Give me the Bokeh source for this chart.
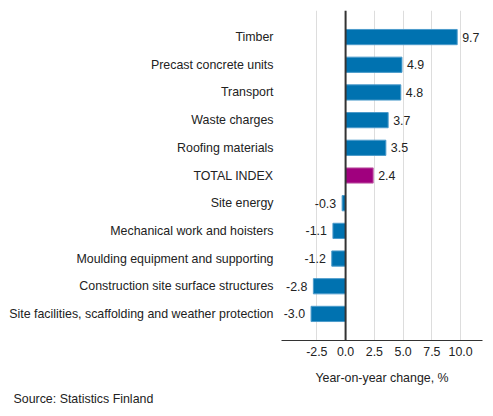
from bokeh.plotting import figure
from bokeh.models import (ColumnDataSource, FactorRange, Span, FixedTicker,
                          NumeralTickFormatter, Title, Range1d)
from bokeh.embed import file_html
from bokeh.resources import INLINE
from bokeh.core.properties import value

categories = ["Timber", "Precast concrete units", "Transport", "Waste charges",
              "Roofing materials", "TOTAL INDEX", "Site energy",
              "Mechanical work and hoisters", "Moulding equipment and supporting",
              "Construction site surface structures",
              "Site facilities, scaffolding and weather protection"]
values = [9.7, 4.9, 4.8, 3.7, 3.5, 2.4, -0.3, -1.1, -1.2, -2.8, -3.0]
x_ticks = [-2.5, 0.0, 2.5, 5.0, 7.5, 10.0]

BLUE = "#0072B0"
PURPLE = "#A0007E"
FONT = "Liberation Sans"
FS = "12.4px"

colors = [PURPLE if c == "TOTAL INDEX" else BLUE for c in categories]
lines = ["#C060A8" if c == "TOTAL INDEX" else "#4C9BCB" for c in categories]
labels = ["%.1f" % v for v in values]

factors = list(reversed(categories))

p = figure(width=493, height=416, output_backend="svg", toolbar_location=None,
           y_range=FactorRange(factors=factors, range_padding=0.46,
                               range_padding_units="absolute"),
           x_range=Range1d(-5.57, 11.9),
           min_border_left=281, min_border_right=11, min_border_top=10,
           min_border_bottom=76)
p.outline_line_color = None
p.background_fill_color = "white"

src_pos = ColumnDataSource(dict(
    cat=[c for c, v in zip(categories, values) if v >= 0],
    val=[v for v in values if v >= 0],
    color=[col for col, v in zip(colors, values) if v >= 0],
    lc=[l for l, v in zip(lines, values) if v >= 0],
    lab=[l for l, v in zip(labels, values) if v >= 0]))
src_neg = ColumnDataSource(dict(
    cat=[c for c, v in zip(categories, values) if v < 0],
    val=[v for v in values if v < 0],
    color=[col for col, v in zip(colors, values) if v < 0],
    lc=[l for l, v in zip(lines, values) if v < 0],
    lab=[l for l, v in zip(labels, values) if v < 0]))

for src in (src_pos, src_neg):
    p.hbar(y="cat", left=0, right="val", height=0.55, source=src,
           fill_color="color", line_color="lc", line_width=1)

p.text(x="val", y="cat", text="lab", source=src_pos, x_offset=5,
       text_align="left", text_baseline="middle", text_font=value(FONT),
       text_font_size=FS, text_color="#222222")
p.text(x="val", y="cat", text="lab", source=src_neg, x_offset=-6,
       text_align="right", text_baseline="middle", text_font=value(FONT),
       text_font_size=FS, text_color="#222222")

p.add_layout(Span(location=0, dimension="height", line_color="#333333",
                  line_width=2))

p.xaxis.ticker = FixedTicker(ticks=x_ticks)
p.xaxis.formatter = NumeralTickFormatter(format="0.0")
p.xaxis.axis_label = "Year-on-year change, %"
p.xaxis.axis_label_text_font = FONT
p.xaxis.axis_label_text_font_style = "normal"
p.xaxis.axis_label_text_font_size = FS
p.xaxis.axis_label_text_color = "#222222"
p.xaxis.axis_label_standoff = 12
p.xaxis.major_label_text_font = FONT
p.xaxis.major_label_text_font_size = FS
p.xaxis.major_label_text_color = "#222222"
p.xaxis.major_label_standoff = 6
p.xaxis.major_tick_in = 0
p.xaxis.major_tick_out = 0
p.xaxis.minor_tick_in = 0
p.xaxis.minor_tick_out = 0
p.xaxis.axis_line_color = "#333333"
p.xaxis.axis_line_width = 1

p.yaxis.major_label_text_font = FONT
p.yaxis.major_label_text_font_size = FS
p.yaxis.major_label_text_color = "#222222"
p.yaxis.major_label_standoff = 8
p.yaxis.major_tick_in = 0
p.yaxis.major_tick_out = 0
p.yaxis.axis_line_color = None

p.xgrid.ticker = FixedTicker(ticks=x_ticks)
p.xgrid.grid_line_color = "#DDDDDD"
p.ygrid.grid_line_color = None

p.add_layout(Title(text="Source: Statistics Finland", align="left",
                   text_font=FONT, text_font_size=FS,
                   text_font_style="normal", text_color="#222222",
                   offset=-268, standoff=5), "below")

open("out.html", "w").write(file_html(p, INLINE))
